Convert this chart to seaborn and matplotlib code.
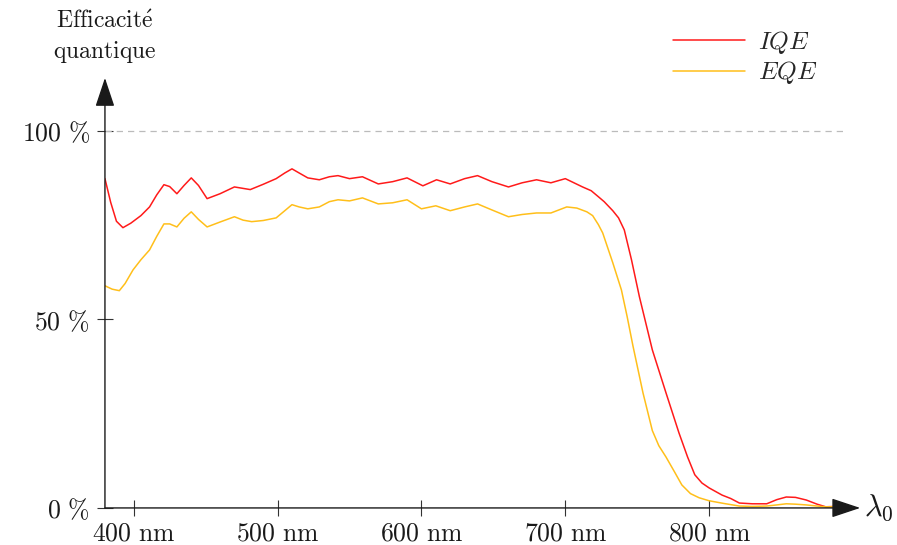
import matplotlib
matplotlib.use('Agg')
import matplotlib.pyplot as plt
import pandas as pd
import seaborn as sns

# valeurs (longueur d'onde en nm, efficacité en %)
iqe_nm = [380, 384, 388, 392.5, 398, 405, 411, 416, 421, 425, 430, 435, 440, 445, 451, 460,
          470, 481, 490, 499, 505, 510, 515, 521, 529, 536, 542, 550, 559, 570, 580, 590,
          601, 610.5, 620, 630, 639, 649, 660.5, 670, 680, 690, 700, 712, 718, 723, 727,
          733, 737, 741, 746, 751.5, 760.5, 770, 779, 785, 790, 795, 800, 809, 815, 821, 830, 840,
          847, 853.6, 860, 867.5, 875, 881, 888, 895]
iqe_val = [87.3, 81, 76, 74.3, 75.5, 77.5, 79.8, 83, 85.7, 85.2, 83.3, 85.5, 87.5, 85.5, 82.0, 83.3,
           85.1, 84.4, 85.8, 87.3, 88.8, 89.9, 88.8, 87.5, 87.0, 87.8, 88.1, 87.3, 87.8, 85.9, 86.5, 87.5,
           85.4, 87.0, 85.9, 87.3, 88.1, 86.5, 85.1, 86.2, 87.0, 86.2, 87.3, 85.1, 84.1, 82.5, 81.2,
           78.8, 76.9, 73.7, 65.8, 56.0, 41.9, 30.5, 19.9, 13.5, 8.8, 6.6, 5.3, 3.4, 2.5, 1.3, 1.1, 1.1,
           2.2, 2.9, 2.8, 2.1, 1.0, 0.3, 0.4, 0.3]

eqe_nm = [380, 385, 390, 394, 399.5, 405, 411, 416, 421, 425, 430, 435, 440, 445, 451, 460,
          470, 476, 482, 490, 499, 505, 510, 515, 521, 529, 536, 542, 550, 559, 570, 580,
          590, 600, 610, 620, 630, 639, 649, 660.5, 670, 680, 690, 701, 708, 715, 719, 723,
          726, 733, 739, 743, 747, 754, 760.5, 765, 770, 776, 781, 787, 793, 800, 810, 821, 830, 840, 847,
          853.6, 860, 867.5, 875, 881, 888, 895]
eqe_val = [58.9, 58.0, 57.6, 59.5, 63.1, 65.8, 68.4, 72.0, 75.3, 75.3, 74.5, 76.8, 78.5, 76.5, 74.5, 75.8,
           77.2, 76.3, 75.9, 76.2, 76.9, 78.8, 80.4, 79.8, 79.3, 79.8, 81.2, 81.7, 81.4, 82.2, 80.6, 80.9,
           81.7, 79.3, 80.1, 78.8, 79.8, 80.6, 79.0, 77.2, 77.8, 78.2, 78.2, 79.8, 79.5, 78.5, 77.5, 75.1,
           72.9, 65.0, 57.8, 50.7, 43.0, 30.5, 20.5, 16.5, 13.5, 9.5, 6.1, 3.8, 2.7, 1.9, 1.2, 0.5, 0.4, 0.5, 0.8,
           1.1, 1.0, 0.8, 0.5, 0.3, 0.3, 0.3]

x_ticks = [400, 500, 600, 700, 800]
x_labels = [r'$\mathrm{400\ nm}$', r'$\mathrm{500\ nm}$', r'$\mathrm{600\ nm}$',
            r'$\mathrm{700\ nm}$', r'$\mathrm{800\ nm}$']
y_ticks = [0, 50, 100]
y_labels = [r'$0\ \%$', r'$50\ \%$', r'$100\ \%$']

df = pd.concat([
    pd.DataFrame({'nm': iqe_nm, 'val': iqe_val, 'serie': 'IQE'}),
    pd.DataFrame({'nm': eqe_nm, 'val': eqe_val, 'serie': 'EQE'}),
])

sns.set_style('white')
plt.rcParams['mathtext.fontset'] = 'cm'
plt.rcParams['font.family'] = ['DejaVu Serif']

fig = plt.figure(figsize=(8.97, 5.45), dpi=100)
ax = fig.add_axes([0.117, 0.068, 0.842, 0.789])

sns.lineplot(data=df, x='nm', y='val', hue='serie', estimator=None, ax=ax,
             palette={'IQE': '#ff1a1a', 'EQE': '#ffbf1a'}, linewidth=1.1)

ax.axhline(100, xmin=0, xmax=(894 - 380) / (905 - 380), color='#bbbbbb',
           lw=0.9, dashes=(5, 4))

ax.set_xlim(380, 905)
ax.set_ylim(0, 114)
for s in ax.spines.values():
    s.set_visible(False)

# axes fléchés
arrow = dict(arrowstyle='-|>,head_length=0.9,head_width=0.3', color='#1a1a1a',
             lw=1.0, mutation_scale=20, shrinkA=0, shrinkB=0)
ax.annotate('', xy=(1, 0), xytext=(0, 0), xycoords='axes fraction', arrowprops=arrow)
ax.annotate('', xy=(0, 1), xytext=(0, 0), xycoords='axes fraction', arrowprops=arrow)

ax.set_xticks(x_ticks, labels=x_labels)
ax.set_yticks(y_ticks, labels=y_labels)
ax.tick_params(direction='inout', length=12, width=0.8, color='#333333',
               labelsize=18.5, labelcolor='#1a1a1a', pad=3)
ax.tick_params(axis='x', bottom=True)
ax.tick_params(axis='y', left=True, pad=5)
ax.set_xlabel('')
ax.set_ylabel('')

ax.text(1.005, 0, r'$\lambda_0$', transform=ax.transAxes, fontsize=22,
        ha='left', va='center', color='#1a1a1a')
fig.text(105 / 897, 1 - 21 / 545, r'$\mathrm{Efficacit\acute{e}}$', fontsize=17,
         ha='center', va='center', color='#1a1a1a')
fig.text(105 / 897, 1 - 52 / 545, r'$\mathrm{quantique}$', fontsize=17,
         ha='center', va='center', color='#1a1a1a')

handles, _ = ax.get_legend_handles_labels()
ax.legend(handles, [r'$IQE$', r'$EQE$'], loc='upper left',
          bbox_to_anchor=(660 / 897, 1 - 16 / 545), bbox_transform=fig.transFigure,
          frameon=False, fontsize=18, handlelength=2.9, handletextpad=0.5,
          labelspacing=0.15, borderpad=0)

fig.savefig('out.png', dpi=100)
